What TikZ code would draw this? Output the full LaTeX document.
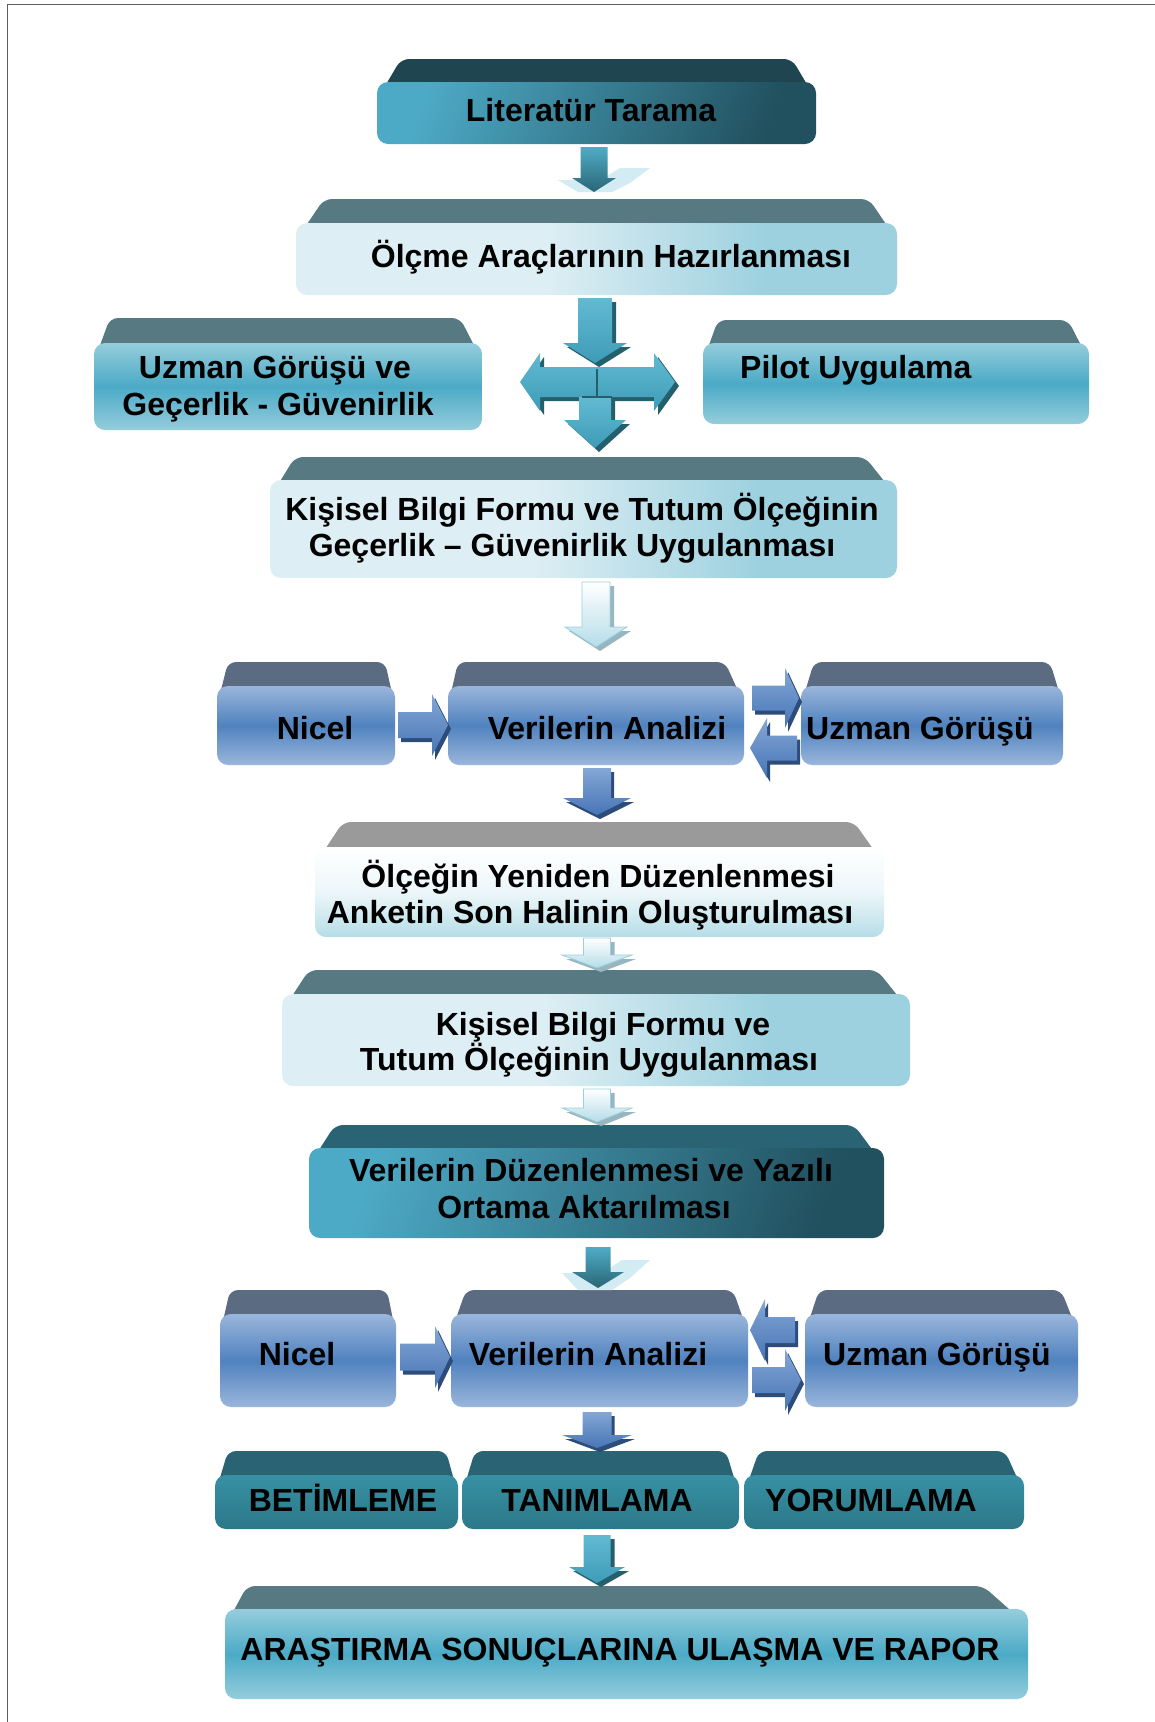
\documentclass[tikz,border=0pt]{standalone}
\usepackage{fontspec}
\setmainfont{Liberation Sans}
\usetikzlibrary{calc}
\definecolor{framecol}{HTML}{5E5E5E}
\definecolor{tealtop}{HTML}{1F4550}
\definecolor{tealtopb}{HTML}{2A6373}
\definecolor{teallight}{HTML}{4DAAC6}
\definecolor{tealdark}{HTML}{21505E}
\definecolor{slate}{HTML}{577A82}
\definecolor{palecyan}{HTML}{DDEEF4}
\definecolor{midcyan}{HTML}{9DD1DF}
\definecolor{cyanA}{HTML}{95CDDC}
\definecolor{cyanB}{HTML}{4BAAC6}
\definecolor{bluetop}{HTML}{5B6B82}
\definecolor{blueA}{HTML}{9AB6DB}
\definecolor{blueB}{HTML}{5082BF}
\definecolor{graytop}{HTML}{9A9A9A}
\definecolor{whitecyan}{HTML}{B6DDE7}
\definecolor{tealfA}{HTML}{3791A3}
\definecolor{tealfB}{HTML}{2B7889}
\definecolor{arrA}{HTML}{62BAD2}
\definecolor{arrB}{HTML}{3E9CB7}
\definecolor{arrshadow}{HTML}{245F6E}
\definecolor{darrA}{HTML}{4FACC6}
\definecolor{darrB}{HTML}{2A6676}
\definecolor{reflectc}{HTML}{D3EBF2}
\definecolor{lightline}{HTML}{9CCFDC}
\definecolor{lightshadow}{HTML}{98B6C0}
\definecolor{lightarrB}{HTML}{B5DDE8}
\definecolor{barrA}{HTML}{84A7D5}
\definecolor{barrB}{HTML}{4775B6}
\definecolor{blueshadow}{HTML}{2C4C7A}

\pgfdeclarehorizontalshading{lightbox}{100bp}{color(0bp)=(palecyan); color(25bp)=(palecyan); color(46bp)=(palecyan); color(64bp)=(midcyan); color(100bp)=(midcyan)}

\tikzset{
  lbl/.style={font=\bfseries\fontsize{32}{36}\selectfont, inner sep=0pt, anchor=base, text=black},
  fdark/.style={left color=teallight, right color=tealdark, shading angle=70},
  flight/.style={shading=lightbox},
  fmid/.style={top color=cyanA, bottom color=cyanA, middle color=cyanB},
  fblue/.style={top color=blueA, bottom color=blueA, middle color=blueB},
  fwhite/.style={top color=white, bottom color=whitecyan, middle color=white!75!whitecyan},
  fteal/.style={top color=tealfA, bottom color=tealfB},
  tealarr/.style={top color=arrA, bottom color=arrB},
  tealshadow/.style={fill=arrshadow, xshift=4pt, yshift=-4pt},
  darkarr/.style={top color=darrA, bottom color=darrB},
  lightarr/.style={top color=white, bottom color=lightarrB, draw=lightline, line width=0.8pt},
  lightshad/.style={fill=lightshadow, xshift=4pt, yshift=-4pt},
  bluearr/.style={top color=barrA, bottom color=barrB},
  blueshad/.style={fill=blueshadow, xshift=3pt, yshift=-4pt},
}

% xl, xr, ytop, yboundary, ybottom, left inset, topcolour, frontstyle, right inset
\newcommand\bevelbox[9]{%
  \fill[#7, rounded corners=8pt] (#1+1,#4+16) -- (#1+#6,#3) -- (#2-#9,#3) -- (#2-1,#4+16) -- cycle;
  \path[#8, rounded corners=11pt] (#1,#4) rectangle (#2,#5);
}
% cx, ytop, ybase, ytip, half shaft, half head, style
\newcommand\vblock[7]{%
  \path[#7] (#1-#5,#2) -- (#1+#5,#2) -- (#1+#5,#3) -- (#1+#6,#3) -- (#1,#4) -- (#1-#6,#3) -- (#1-#5,#3) -- cycle;}
% cy, xstart, xbase, xtip, half shaft, half head, style
\newcommand\hblock[7]{%
  \path[#7] (#2,#1-#5) -- (#3,#1-#5) -- (#3,#1-#6) -- (#4,#1) -- (#3,#1+#6) -- (#3,#1+#5) -- (#2,#1+#5) -- cycle;}

\begin{document}
\begin{tikzpicture}[x=1pt,y=-1pt]
\useasboundingbox (0,0) rectangle (1155,1722);
\draw[framecol, line width=1.6pt] (7.5,1722) -- (7.5,4.5) -- (1155,4.5);

% ---------- boxes ----------
\bevelbox{377}{816}{59}{82}{144}{24}{tealtop}{fdark}{24}
\bevelbox{296}{897}{199}{223}{295}{28}{slate}{flight}{28}
\bevelbox{94}{482}{318}{343}{430}{16}{slate}{fmid}{22}
\bevelbox{703}{1089}{320}{343}{424}{15}{slate}{fmid}{21}
\bevelbox{270}{897}{457}{480}{578}{25}{slate}{flight}{32}
\bevelbox{217}{395}{662}{686}{765}{11}{bluetop}{fblue}{10}
\bevelbox{448}{744}{662}{686}{765}{10}{bluetop}{fblue}{19}
\bevelbox{801}{1063}{662}{686}{765}{13}{bluetop}{fblue}{13}
\bevelbox{315}{884}{822}{847}{937}{28}{graytop}{fwhite}{30}
\bevelbox{282}{910}{970}{994}{1086}{27}{slate}{flight}{33}
\bevelbox{309}{884}{1125}{1148}{1238}{26}{tealtopb}{fdark}{30}
\bevelbox{220}{396}{1290}{1314}{1407}{10}{bluetop}{fblue}{9}
\bevelbox{451}{748}{1290}{1314}{1407}{15}{bluetop}{fblue}{15}
\bevelbox{805}{1078}{1290}{1314}{1407}{14}{bluetop}{fblue}{17}
\bevelbox{215}{458}{1451}{1475}{1529}{13}{tealtopb}{fteal}{12}
\bevelbox{462}{739}{1451}{1475}{1529}{13}{tealtopb}{fteal}{13}
\bevelbox{744}{1024}{1451}{1475}{1529}{15}{tealtopb}{fteal}{19}
\bevelbox{225}{1028}{1586}{1609}{1699}{22}{slate}{fmid}{45}

% ---------- texts ----------
\node[lbl] (lit) at (591,121) {Literatür Tarama};
\node[lbl] (olcme) at (611,267) {Ölçme Araçlarının Hazırlanması};
\node[lbl] (uzA) at (275,378) {Uzman Görüşü ve};
\node[lbl] (uzB) at (278,415) {Geçerlik - Güvenirlik};
\node[lbl, anchor=base west] (pilot) at (740,378) {Pilot Uygulama};
\node[lbl] (kisA) at (582,520) {Kişisel Bilgi Formu ve Tutum Ölçeğinin};
\node[lbl] (kisB) at (572,556) {Geçerlik – Güvenirlik Uygulanması};
\node[lbl] (nicel1) at (315,739) {Nicel};
\node[lbl] (ver1) at (607,739) {Verilerin Analizi};
\node[lbl] (uzm1) at (920,739) {Uzman Görüşü};
\node[lbl] (olcA) at (598,887) {Ölçeğin Yeniden Düzenlenmesi};
\node[lbl] (olcB) at (590,923) {Anketin Son Halinin Oluşturulması};
\node[lbl] (kis2A) at (603,1035) {Kişisel Bilgi Formu ve};
\node[lbl] (kis2B) at (589,1070) {Tutum Ölçeğinin Uygulanması};
\node[lbl] (vdA) at (591,1181) {Verilerin Düzenlenmesi ve Yazılı};
\node[lbl] (vdB) at (584,1218) {Ortama Aktarılması};
\node[lbl] (nicel2) at (297,1365) {Nicel};
\node[lbl] (ver2) at (588,1365) {Verilerin Analizi};
\node[lbl] (uzm2) at (937,1365) {Uzman Görüşü};
\node[lbl] (bet) at (343,1511) {BETİMLEME};
\node[lbl] (tan) at (597,1511) {TANIMLAMA};
\node[lbl] (yor) at (871,1511) {YORUMLAMA};
\node[lbl] (ara) at (620,1660) {ARAŞTIRMA SONUÇLARINA ULAŞMA VE RAPOR};

% ---------- arrows ----------
% Literatür -> Ölçme (with reflection)
\fill[reflectc] (558,180) -- (600,180) -- (620,168) -- (650,168) -- (630,183) -- (612,192) -- (578,192) -- cycle;
\vblock{594}{147}{178}{192}{13.5}{22}{darkarr}

% cross arrow
\vblock{595}{298}{343}{363}{17}{32}{tealshadow}
\hblock{382}{597}{540}{520}{15}{29}{tealshadow}
\hblock{382}{597}{654}{675}{15}{29}{tealshadow}
\vblock{595}{397}{420}{448}{16}{31}{tealshadow}
\vblock{595}{298}{343}{363}{17}{32}{tealarr}
\hblock{382}{597}{540}{520}{15}{29}{tealarr}
\hblock{382}{597}{654}{675}{15}{29}{tealarr}
\vblock{595}{397}{420}{448}{16}{31}{tealarr}
\draw[arrshadow, line width=2pt] (597,369) -- (597,397);
\draw[arrshadow, line width=2pt] (582,397) -- (612,397);

% light arrow Kişisel -> row
\vblock{596}{582}{627}{647}{14}{31}{lightshad}
\vblock{596}{582}{627}{647}{14}{31}{lightarr}

% row 1 arrows
\hblock{725}{398}{432}{448}{13}{31}{blueshad}
\hblock{725}{398}{432}{448}{13}{31}{bluearr}
\hblock{698}{752}{785}{799}{12.5}{30}{blueshad}
\hblock{698}{752}{785}{799}{12.5}{30}{bluearr}
\hblock{748}{797}{767}{750}{12.5}{30}{blueshad}
\hblock{748}{797}{767}{750}{12.5}{30}{bluearr}
\vblock{597}{768}{798}{815}{14}{34}{blueshad}
\vblock{597}{768}{798}{815}{14}{34}{bluearr}

% light arrows
\vblock{597}{938}{955}{968}{13.5}{35}{lightshad}
\vblock{597}{938}{955}{968}{13.5}{35}{lightarr}
\vblock{597}{1089}{1108}{1122}{13.5}{35}{lightshad}
\vblock{597}{1089}{1108}{1122}{13.5}{35}{lightarr}

% Verilerin Düzenlenmesi -> row 2 (with reflection)
\fill[reflectc] (562,1273) -- (602,1273) -- (622,1260) -- (650,1260) -- (630,1278) -- (612,1290) -- (578,1290) -- cycle;
\vblock{598}{1247}{1272}{1288}{12.5}{26}{darkarr}

% row 2 arrows
\hblock{1357}{400}{435}{450}{13.5}{31}{blueshad}
\hblock{1357}{400}{435}{450}{13.5}{31}{bluearr}
\hblock{1330}{795}{765}{750}{13}{31}{blueshad}
\hblock{1330}{795}{765}{750}{13}{31}{bluearr}
\hblock{1380}{752}{785}{801}{13}{31}{blueshad}
\hblock{1380}{752}{785}{801}{13}{31}{bluearr}
\vblock{597}{1412}{1435}{1448}{14.5}{35}{blueshad}
\vblock{597}{1412}{1435}{1448}{14.5}{35}{bluearr}

% row 3 -> final
\vblock{597}{1535}{1567}{1583}{13.5}{28}{tealshadow}
\vblock{597}{1535}{1567}{1583}{13.5}{28}{tealarr}
\end{tikzpicture}
\end{document}
